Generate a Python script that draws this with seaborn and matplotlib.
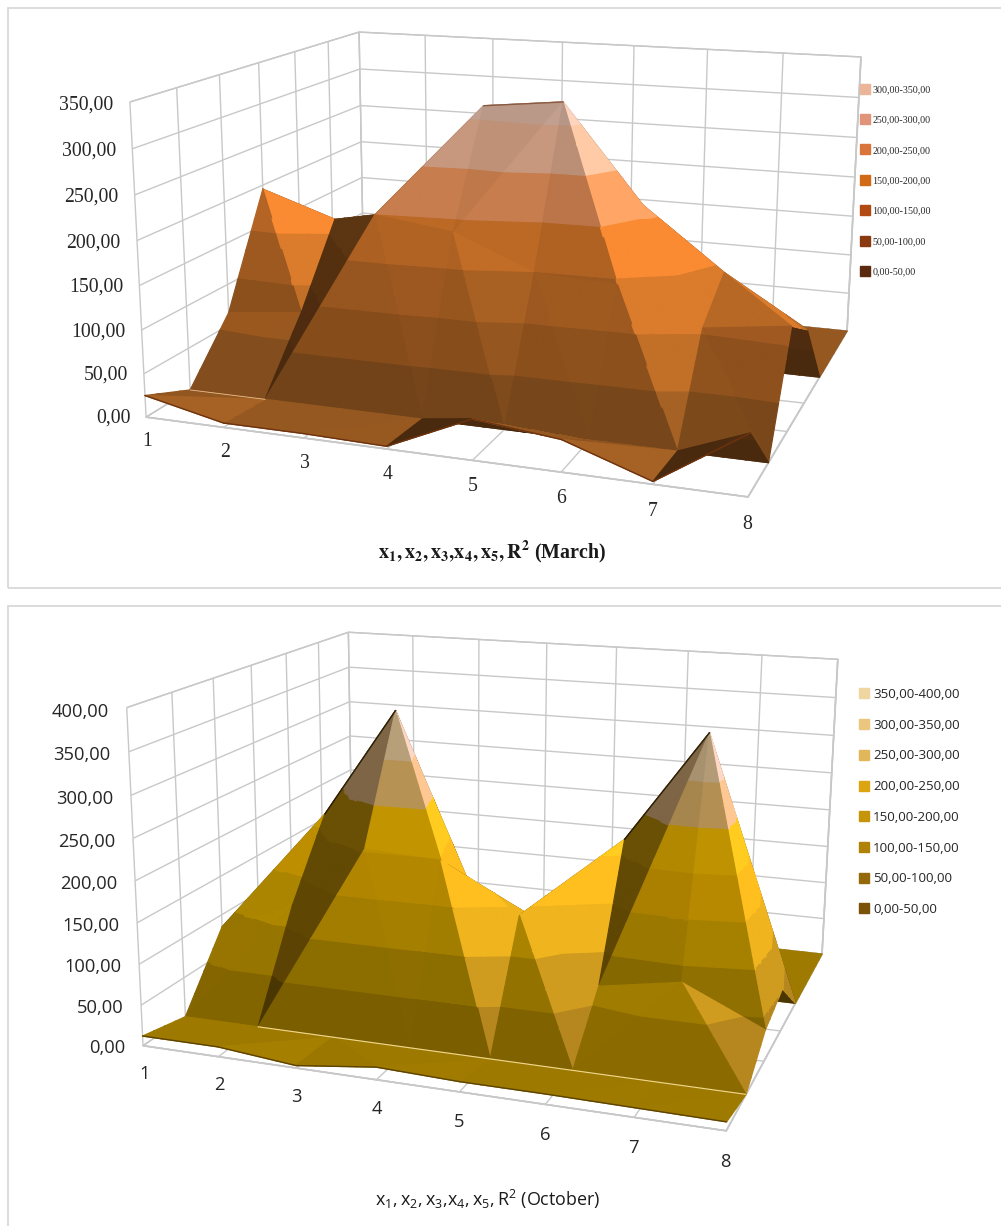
import numpy as np
import matplotlib
matplotlib.use("Agg")
import matplotlib.pyplot as plt
from matplotlib.lines import Line2D
from matplotlib.patches import Rectangle
from matplotlib.ticker import NullFormatter
from mpl_toolkits.mplot3d.art3d import Poly3DCollection
import seaborn as sns

W, H = 1001, 1226

categories = [1, 2, 3, 4, 5, 6, 7, 8]

# Surface heights, one list per series, front to back
march_s1 = [25, 5, 5, 3, 45, 35, 3, 66]
march_s2 = [0, 0, 0, 0, 0, 0, 0, 0]
march_s3 = [65, 75, 200, 188, 150, 145, 106, 118]
march_s4 = [195, 165, 100, 315, 325, 213, 143, 86]
march_s5 = [0, 0, 0, 0, 0, 0, 0, 0]
march_s6 = [0, 0, 0, 0, 0, 0, 0, 0]
march_s7 = [0, 0, 0, 0, 0, 0, 0, 0]

october_s1 = [12, 12, 3, 15, 12, 12, 11, 10]
october_s2 = [0, 0, 0, 0, 0, 0, 0, 0]
october_s3 = [84, 122, 204, 199, 142, 66, 83, 38]
october_s4 = [40, 215, 355, 140, 100, 218, 355, 53]
october_s5 = [0, 0, 0, 0, 0, 0, 0, 0]
october_s6 = [0, 0, 0, 0, 0, 0, 0, 0]
october_s7 = [0, 0, 0, 0, 0, 0, 0, 0]

march_ticks = [0, 50, 100, 150, 200, 250, 300, 350]
october_ticks = [0, 50, 100, 150, 200, 250, 300, 350, 400]

march_lit = ["#a05e23", "#bb6b26", "#d3772b", "#f08630", "#ffa062", "#ffc3a0", "#f8ccb6"]
march_under = ["#4a2a0f", "#4f2c10", "#55300f", "#5c3512", "#6a4428", "#7a5a44", "#8a7060"]
march_swatch = ["#5a2a10", "#8a3a10", "#b04a12", "#d06a14", "#d9743a", "#e0947a", "#eab598"]

october_lit = ["#a98200", "#c19600", "#dfad00", "#f5b800", "#ffc400", "#f0c070", "#f0d0a0", "#f2d8b0"]
october_under = ["#4a3602", "#5c4303", "#5f4703", "#624a04", "#6a5004", "#7d6545", "#7d6545", "#7d6545"]
october_swatch = ["#7a5208", "#94690a", "#b08208", "#c69408", "#dca410", "#e2b65a", "#eac67e", "#efd6a0"]

# Cells whose fold runs against the higher-sum diagonal
march_folds = {(1, 6): "b", (3, 6): "b"}
october_folds = {}


def band_labels(ticks):
    return [f"{a},00-{b},00" for a, b in zip(ticks[:-1], ticks[1:])]


def solve_camera(ax, corners):
    """Fit a pinhole camera to known wall corners and return a 4x4 matrix."""
    world, pixels = zip(*corners)
    world = np.array(world, float)
    pixels = np.array(pixels, float)
    disp = np.c_[pixels[:, 0], H - pixels[:, 1]]
    ax.apply_aspect()
    uv = ax.transData.inverted().transform(disp)
    rows = []
    for (x, y, z), (u, v) in zip(world, uv):
        z = z / 100
        rows.append([x, y, z, 1, 0, 0, 0, 0, -u * x, -u * y, -u * z, -u])
        rows.append([0, 0, 0, 0, x, y, z, 1, -v * x, -v * y, -v * z, -v])
    _, _, vt = np.linalg.svd(np.array(rows))
    p = vt[-1].reshape(3, 4)
    p[:, 2] /= 100
    if p[2] @ np.array([4, 3, 100, 1]) < 0:
        p = -p
    p = p / (p[2] @ np.array([4, 3, 100, 1]))
    return np.array([p[0], p[1], [0, 0, 0, -1], p[2]])


def project(M, x, y, z):
    h = M @ np.array([x, y, z, 1.0])
    return h[0] / h[3], h[1] / h[3]


def clip_band(poly, lo, hi):
    """Keep the part of a 3D polygon whose height lies between lo and hi."""
    def cut(points, level, keep_above):
        out = []
        for i, a in enumerate(points):
            b = points[(i + 1) % len(points)]
            ina = a[2] >= level if keep_above else a[2] <= level
            inb = b[2] >= level if keep_above else b[2] <= level
            if ina:
                out.append(a)
            if ina != inb:
                t = (level - a[2]) / (b[2] - a[2])
                out.append(a + t * (b - a))
        return out
    res = cut(list(poly), lo, True)
    if len(res) >= 3:
        res = cut(res, hi, False)
    return res


def subdivide(a, b, c, n):
    out = []
    pt = lambda i, j: a + (b - a) * i / n + (c - a) * j / n
    for i in range(n):
        for j in range(n - i):
            out.append((pt(i, j), pt(i + 1, j), pt(i, j + 1)))
            if i + j < n - 1:
                out.append((pt(i + 1, j), pt(i + 1, j + 1), pt(i, j + 1)))
    return out


def face_shade(normal):
    """Brightness of a facet and how far it catches the light from the right."""
    nx, nz = normal[0], normal[2]
    side = 0.3 * nx if nx > 0 else 0.1 * nx
    catch = np.clip((nx - 0.225) / 0.02, 0, 1)
    flat = 0.31 * (nz - 0.36)
    return min(0.74 + side + flat + 0.32 * catch, 1.04), catch


def surface_polys(grid, ticks, lit, under, folds, M, sheen):
    scale = np.array([1 / 7, 0.8 / 6, 0.8 / ticks[-1]])
    verts, colors = [], []
    nrow, ncol = grid.shape
    node = lambda r, c: np.array([categories[c], r, grid[r, c]], float)
    for r in range(nrow - 1):
        for c in range(ncol - 1):
            a, b, d, e = node(r, c), node(r, c + 1), node(r + 1, c + 1), node(r + 1, c)
            fold = folds.get((r, c))
            if fold is None:
                fold = "a" if a[2] + d[2] >= b[2] + e[2] else "b"
            tris = [(a, b, d), (a, d, e)] if fold == "a" else [(a, b, e), (b, d, e)]
            for t in tris:
                normal = np.cross((t[1] - t[0]) * scale, (t[2] - t[0]) * scale)
                normal = normal / np.linalg.norm(normal)
                shade, catch = face_shade(normal)
                h = np.array([[*p, 1] for p in t]) @ M.T
                uv = h[:, :2] / h[:, 3:4]
                area = np.cross(uv[1] - uv[0], uv[2] - uv[0])
                shadowed = area < 0 or normal[0] < -0.4
                for sub in subdivide(*t, 4):
                    for k in range(len(ticks) - 1):
                        piece = clip_band(sub, ticks[k], ticks[k + 1])
                        if len(piece) < 3:
                            continue
                        if np.ptp([p[2] for p in piece]) == 0 and piece[0][2] != ticks[k]:
                            continue
                        verts.append(np.array(piece))
                        if shadowed:
                            colors.append(under[k])
                        else:
                            rgb = np.array(matplotlib.colors.to_rgb(lit[k])) * shade + catch * np.array(sheen)
                            colors.append(tuple(np.clip(rgb, 0, 1)))
    return verts, colors


def draw_panel(fig, centre_y, grid, ticks, lit, under, folds, corners, tick_font, tick_size,
               z_gap, z_drop, cat_drop, title, title_y, title_font, title_weight, swatches, legend_y,
               legend_spacing, legend_font, legend_size, edges, sheen):
    height = W / H
    ax = fig.add_axes([0, 1 - centre_y / H - height / 2, 1, height], projection="3d",
                      computed_zorder=False)
    ax.patch.set_visible(False)
    M = solve_camera(ax, corners)
    ax.get_proj = lambda: M

    verts, colors = surface_polys(grid, ticks, lit, under, folds, M, sheen)
    surf = Poly3DCollection(verts, facecolors=colors, edgecolors=colors, linewidths=0.9, zorder=2)
    ax.add_collection3d(surf)

    # Thin rims along the front edge, the first fold and the crests
    for row, start, stop, colour, width in edges:
        ax.plot(categories[start:stop], [row] * (stop - start), grid[row, start:stop],
                color=colour, lw=width, zorder=3, solid_capstyle="round")

    ax.set_xlim(categories[0], categories[-1])
    ax.set_ylim(0, grid.shape[0] - 1)
    ax.set_zlim(ticks[0], ticks[-1])
    ax.set_xticks(categories)
    ax.set_yticks(range(grid.shape[0]))
    ax.set_zticks(ticks)
    for axis in (ax.xaxis, ax.yaxis, ax.zaxis):
        axis.set_major_formatter(NullFormatter())
        axis.set_pane_color((1, 1, 1, 1))
        axis.pane.set_edgecolor("#c8c8c8")
        axis.line.set_color("#c8c8c8")
        axis._axinfo["grid"].update(color="#c8c8c8", linewidth=1.0)
        axis._axinfo["tick"].update(inward_factor=0, outward_factor=0)
    ax.grid(True)

    for t in ticks:
        u, v = project(M, categories[0] - z_gap, 0, t - z_drop)
        ax.text2D(u, v, f"{t},00", transform=ax.transData, ha="right", va="center",
                  fontsize=tick_size, family=tick_font, color="#262626")
    for c in categories:
        u, v = project(M, c, 0, cat_drop)
        ax.text2D(u, v, str(c), transform=ax.transData, ha="center", va="center",
                  fontsize=tick_size, family=tick_font, color="#262626")

    fig.text(title[1] / W, 1 - title_y / H, title[0], ha="center", va="center",
             fontsize=title[2], family=title_font, fontweight=title_weight,
             math_fontfamily=title[3], color="#1a1a1a")

    labels = band_labels(ticks)
    handles = [Line2D([], [], marker="s", ls="", color=s, ms=legend_size[1]) for s in swatches]
    fig.legend(handles[::-1], labels[::-1], loc="upper left", frameon=False,
               bbox_to_anchor=(legend_size[2] / W, 1 - legend_y / H), borderaxespad=0, borderpad=0,
               handlelength=0.9, handletextpad=legend_size[3], labelspacing=legend_spacing,
               prop={"family": legend_font, "size": legend_size[0]}, labelcolor="#262626")
    return ax


sns.set_theme(style="white")
plt.rcParams["mathtext.fontset"] = "custom"
plt.rcParams["mathtext.rm"] = "Open Sans"
plt.rcParams["mathtext.it"] = "Open Sans"
plt.rcParams["mathtext.bf"] = "Open Sans:bold"

fig = plt.figure(figsize=(W / 100, H / 100), dpi=100, facecolor="white")

for x0, y0, x1, y1 in [(8, 8, 1003, 588), (8, 606, 1003, 1230)]:
    fig.add_artist(Rectangle((x0 / W, 1 - y1 / H), (x1 - x0) / W, (y1 - y0) / H,
                             transform=fig.transFigure, fill=False, ec="#d9d9d9", lw=1.3))

march_grid = np.array([march_s1, march_s2, march_s3, march_s4, march_s5, march_s6, march_s7], float)
october_grid = np.array([october_s1, october_s2, october_s3, october_s4, october_s5, october_s6, october_s7], float)

draw_panel(
    fig, 298, march_grid, march_ticks, march_lit, march_under, march_folds,
    [((1, 0, 0), (146, 417)), ((8, 0, 0), (748, 497)), ((8, 6, 0), (847, 331)),
     ((1, 6, 0), (364, 283)), ((1, 0, 350), (130, 102)), ((1, 6, 350), (359, 32)),
     ((8, 6, 350), (861, 57))],
    "Liberation Serif", 14.2, 0.21, 4, -29,
    (r"$\mathbf{x_1, x_2, x_3{,}x_4, x_5, R^2}$ (March)", 492, 14.4, "stix"), 552, "Liberation Serif", "bold",
    march_swatch, 85, 2.14, "Liberation Serif", (7.2, 6.5, 860, 0.35),
    [(0, 0, 8, "#6e330e", 1.0), (1, 0, 2, "#e8c090", 0.6), (3, 3, 5, "#8a5a40", 1.0)],
    (0.0, 0.0, 0.0),
)

draw_panel(
    fig, 915, october_grid, october_ticks, october_lit, october_under, october_folds,
    [((1, 0, 0), (143, 1047)), ((8, 0, 0), (726, 1130)), ((8, 6, 0), (822, 955)),
     ((1, 6, 0), (353, 901)), ((1, 0, 400), (127, 707)), ((1, 6, 400), (348, 633)),
     ((8, 6, 400), (838, 659))],
    "Open Sans", 13.2, 0.24, 6, -35,
    (r"$\mathrm{x_1, x_2, x_3{,}x_4, x_5, R^2}$ (October)", 488, 12.9, "custom"), 1199, "Open Sans", "normal",
    october_swatch, 688, 1.33, "Open Sans", (9.6, 6.5, 858, 0.22),
    [(0, 0, 8, "#5c4303", 1.0), (1, 1, 8, "#f0d890", 0.8), (3, 1, 3, "#2a1e05", 1.0), (3, 5, 7, "#2a1e05", 1.0)],
    (0.03, 0.0, 0.12),
)

fig.savefig("out.png", dpi=100)
